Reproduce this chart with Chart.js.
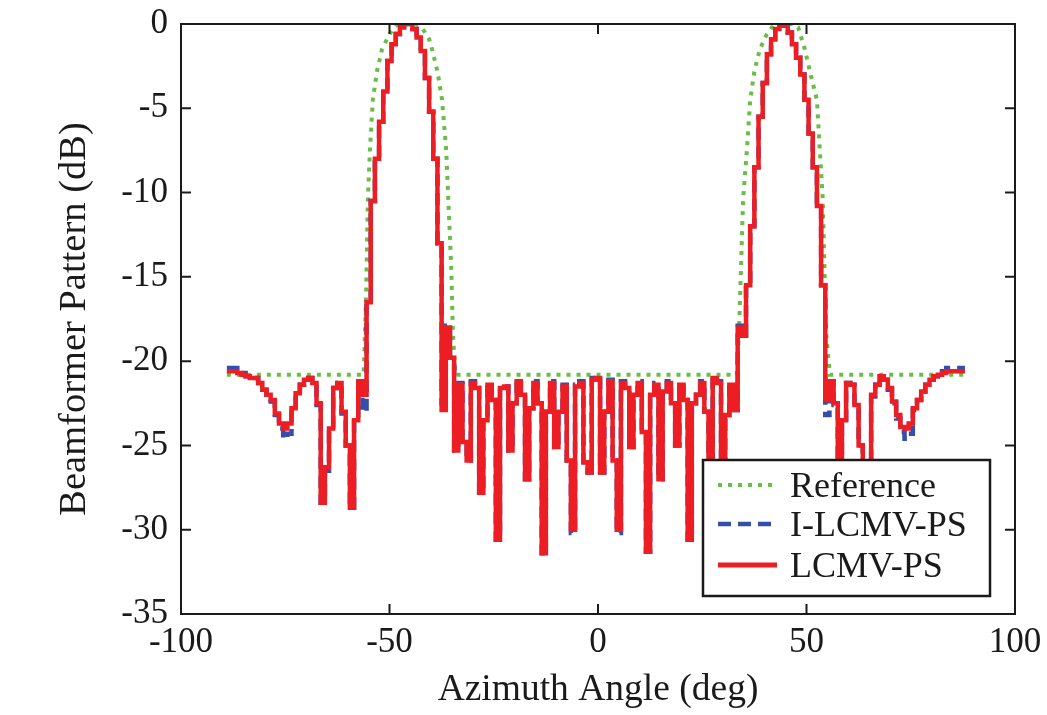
<!DOCTYPE html>
<html><head><meta charset="utf-8">
<script src="https://cdn.jsdelivr.net/npm/chart.js@4.4.1/dist/chart.umd.min.js"></script>
<style>html,body{margin:0;padding:0;background:#fff}#c{display:block}</style>
</head><body>
<canvas id="c" width="1047" height="715"></canvas>
<script>
// Azimuth angles (deg) for the adaptive patterns
const angles = [
-89,-88,-87,-86,-85,-84,-83,-82,-81,-80,-79,-78,-77,-76,-75,-74,-73,-72,-71,-70,
-69,-68,-67,-66,-65,-64,-63,-62,-61,-60,-59,-58,-57,-56,-55,-54,-53,-52,-51,-50,
-49,-48,-47,-46,-45,-44,-43,-42,-41,-40,-39,-38,-37,-36,-35,-34,-33,-32,-31,-30,
-29,-28,-27,-26,-25,-24,-23,-22,-21,-20,-19,-18,-17,-16,-15,-14,-13,-12,-11,-10,
-9,-8,-7,-6,-5,-4,-3,-2,-1,0,1,2,3,4,5,6,7,8,9,10,
11,12,13,14,15,16,17,18,19,20,21,22,23,24,25,26,27,28,29,30,
31,32,33,34,35,36,37,38,39,40,41,42,43,44,45,46,47,48,49,50,
51,52,53,54,55,56,57,58,59,60,61,62,63,64,65,66,67,68,69,70,
71,72,73,74,75,76,77,78,79,80,81,82,83,84,85,86,87,88
];
// LCMV-PS pattern (dB)
const lcmvPS = [
-20.6,-20.6,-20.6,-20.7,-20.8,-20.9,-21.0,-21.0,-21.3,-21.7,-22.0,-22.3,-23.1,-23.7,-24.0,-23.7,-22.8,-21.9,-21.4,-21.1,
-21.0,-21.3,-22.5,-28.4,-26.3,-24.0,-21.6,-21.3,-23.0,-25.0,-28.7,-23.5,-21.2,-22.0,-16.5,-10.5,-8.0,-5.8,-4.0,-2.2,
-1.2,-0.6,-0.2,0,0,-0.3,-0.8,-1.6,-3.2,-5.2,-8.0,-13.0,-22.9,-18.0,-19.8,-25.3,-21.4,-24.8,-25.9,-21.3,
-21.6,-27.8,-23.5,-21.4,-22.3,-30.6,-21.6,-21.5,-25.3,-22.5,-21.2,-22.0,-27.0,-22.8,-21.3,-22.5,-31.4,-23.0,-21.3,-25.1,
-23.0,-21.5,-25.9,-30.0,-21.5,-21.3,-26.0,-26.6,-21.1,-21.0,-26.6,-23.0,-21.2,-25.9,-30.0,-21.3,-21.6,-25.1,-22.0,-21.3,
-24.2,-31.3,-22.0,-21.4,-27.0,-21.8,-21.3,-22.5,-25.0,-21.4,-22.3,-30.6,-22.5,-22.0,-21.3,-23.0,-25.9,-21.0,-21.3,-25.7,
-23.2,-21.4,-22.9,-18.0,-18.5,-15.5,-12.0,-8.5,-5.5,-3.5,-1.8,-0.9,-0.3,0,-0.1,-0.5,-1.2,-2.0,-3.0,-4.5,
-6.5,-8.5,-10.8,-15.5,-22.3,-21.2,-22.5,-28.0,-23.5,-21.3,-21.4,-22.6,-25.0,-28.5,-26.0,-22.0,-21.4,-20.9,-21.1,-21.6,
-22.4,-23.2,-23.9,-24.0,-23.7,-22.8,-22.3,-21.8,-21.4,-21.1,-20.9,-20.8,-20.7,-20.6,-20.6,-20.6,-20.6,-20.6
];
// I-LCMV-PS pattern (dB)
const ilcmvPS = [
-20.4,-20.4,-20.4,-20.5,-20.7,-20.9,-21.0,-21.0,-21.3,-21.7,-22.0,-22.4,-23.2,-24.0,-24.6,-24.3,-22.9,-21.9,-21.4,-21.1,
-21.0,-21.3,-22.6,-28.4,-26.5,-24.2,-21.6,-21.3,-23.1,-25.0,-28.7,-23.6,-21.2,-23.0,-16.5,-10.5,-8.0,-5.8,-4.0,-2.2,
-1.2,-0.6,-0.2,0,0,-0.3,-0.8,-1.6,-3.2,-5.2,-8.0,-13.0,-22.5,-17.9,-19.8,-25.3,-21.3,-24.8,-25.9,-21.2,
-21.6,-27.8,-23.5,-21.3,-22.3,-30.6,-21.5,-21.5,-25.3,-22.5,-21.1,-22.0,-27.0,-22.8,-21.2,-22.5,-31.4,-23.0,-21.2,-25.1,
-23.0,-21.4,-25.9,-30.2,-21.4,-21.2,-26.0,-26.6,-21.0,-20.9,-26.6,-23.0,-21.1,-25.9,-30.2,-21.2,-21.6,-25.1,-22.0,-21.2,
-24.2,-31.3,-22.0,-21.3,-27.0,-21.8,-21.2,-22.5,-25.0,-21.3,-22.3,-30.6,-22.5,-22.0,-21.2,-23.0,-25.9,-20.9,-21.2,-25.7,
-23.2,-21.3,-22.9,-17.9,-18.5,-15.5,-12.0,-8.5,-5.5,-3.5,-1.8,-0.9,-0.3,0,-0.1,-0.5,-1.2,-2.0,-3.0,-4.5,
-6.5,-8.5,-10.8,-15.5,-23.2,-21.2,-22.6,-28.0,-23.6,-21.3,-21.4,-22.7,-25.0,-28.5,-26.1,-22.1,-21.4,-20.9,-21.1,-21.7,
-22.5,-23.4,-24.2,-24.6,-24.3,-22.9,-22.3,-21.8,-21.4,-21.1,-20.9,-20.7,-20.6,-20.4,-20.4,-20.4,-20.4,-20.4
];
// Reference (desired) pattern
const refAngles = [
-89,-56.2,-55.6,-55.2,-54.7,-54,-53,-51.8,-50,-48.5,-47,-43.5,-42,-40.5,-39.8,-38.5,-37.4,-36.4,-35.9,-35.2,-34.8,-34.2,
33.3,33.8,34.3,34.8,35.7,36.5,37.5,38.8,40.5,42,43.2,46.8,48,49.6,51,52.5,53.2,53.9,54.3,54.7,55.6,88
];
const refPattern = [
-20.8,-20.8,-16,-10.5,-7.5,-4.5,-2.8,-1.5,-0.6,-0.1,0,0,-0.3,-0.9,-1.5,-2.8,-4.5,-7.5,-10.4,-14.4,-18.3,-20.8,
-20.8,-18.3,-14.4,-10.4,-7.5,-4.5,-2.8,-1.5,-0.6,-0.1,0,0,-0.2,-1.5,-3.0,-4.5,-7.5,-10.4,-14.4,-18.3,-20.8,-20.8
];
const xTicks = [-100, -50, 0, 50, 100];
const yTicks = [-35, -30, -25, -20, -15, -10, -5, 0];
const seriesNames = ['Reference', 'I-LCMV-PS', 'LCMV-PS'];
const colors = { ref: 'rgb(104,190,72)', ilcmv: 'rgb(52,78,170)', lcmv: 'rgb(236,30,36)' };

const FONT = "'Liberation Serif', 'Times New Roman', serif";
const INK = '#1a1a1a';

const toXY = (xs, ys) => xs.map((x, i) => ({ x: x, y: ys[i] }));

const framePlugin = {
  id: 'frame',
  afterDraw(chart) {
    const { ctx, chartArea: a, scales } = chart;
    ctx.save();
    ctx.strokeStyle = INK;
    ctx.lineWidth = 2;
    ctx.strokeRect(a.left, a.top, a.right - a.left, a.bottom - a.top);
    const L = 10;
    ctx.beginPath();
    xTicks.forEach(v => {
      const px = scales.x.getPixelForValue(v);
      ctx.moveTo(px, a.bottom); ctx.lineTo(px, a.bottom - L);
      ctx.moveTo(px, a.top); ctx.lineTo(px, a.top + L);
    });
    yTicks.forEach(v => {
      const py = scales.y.getPixelForValue(v);
      ctx.moveTo(a.left, py); ctx.lineTo(a.left + L, py);
      ctx.moveTo(a.right, py); ctx.lineTo(a.right - L, py);
    });
    ctx.stroke();

    // legend box
    const bw = 287, bh = 136;
    const bx = a.right - 25 - bw, by = a.bottom - 18 - bh;
    ctx.fillStyle = '#fff';
    ctx.fillRect(bx, by, bw, bh);
    ctx.lineWidth = 2.5;
    ctx.strokeStyle = INK;
    ctx.strokeRect(bx, by, bw, bh);
    const rows = [by + 28, by + 67, by + 108];
    const styles = [
      { c: colors.ref, d: [4, 6], w: 4 },
      { c: colors.ilcmv, d: [13, 7], w: 4.5 },
      { c: colors.lcmv, d: [], w: 5 }
    ];
    ctx.font = "36px " + FONT;
    ctx.textBaseline = 'middle';
    ctx.textAlign = 'left';
    rows.forEach((ry, i) => {
      ctx.beginPath();
      ctx.setLineDash(styles[i].d);
      ctx.strokeStyle = styles[i].c;
      ctx.lineWidth = styles[i].w;
      ctx.moveTo(bx + 15, ry - 3); ctx.lineTo(bx + 74, ry - 3);
      ctx.stroke();
      ctx.setLineDash([]);
      ctx.fillStyle = INK;
      ctx.fillText(seriesNames[i], bx + 87, ry);
    });
    ctx.restore();
  }
};

new Chart(document.getElementById('c'), {
  type: 'line',
  data: {
    datasets: [
      { label: seriesNames[2], data: toXY(angles, lcmvPS), borderColor: colors.lcmv, borderWidth: 4.5,
        stepped: 'middle', pointRadius: 0, fill: false, order: 1 },
      { label: seriesNames[1], data: toXY(angles, ilcmvPS), borderColor: colors.ilcmv, borderWidth: 4.5,
        borderDash: [12, 7], stepped: 'middle', pointRadius: 0, fill: false, order: 2 },
      { label: seriesNames[0], data: toXY(refAngles, refPattern), borderColor: colors.ref, borderWidth: 4,
        borderDash: [4, 6], pointRadius: 0, fill: false, tension: 0, order: 3 }
    ]
  },
  options: {
    responsive: false,
    animation: false,
    devicePixelRatio: 1,
    layout: { padding: { left: 0, right: 32, top: 24, bottom: 0 } },
    plugins: { legend: { display: false }, tooltip: { enabled: false } },
    scales: {
      x: {
        type: 'linear', min: -100, max: 100,
        afterBuildTicks: s => { s.ticks = xTicks.map(v => ({ value: v })); },
        afterFit: s => { s.height = 101; s.paddingLeft = 0; s.paddingRight = 0; },
        grid: { display: false, drawTicks: false },
        border: { display: false },
        ticks: { color: INK, padding: 8, font: { family: FONT, size: 35 }, maxRotation: 0 },
        title: { display: true, text: 'Azimuth Angle (deg)', color: INK,
                 font: { family: FONT, size: 37.5 }, padding: { top: 0, bottom: 2 } }
      },
      y: {
        type: 'linear', min: -35, max: 0,
        afterBuildTicks: s => { s.ticks = yTicks.map(v => ({ value: v })); },
        afterFit: s => { s.width = 181; s.paddingTop = 0; s.paddingBottom = 0; },
        grid: { display: false, drawTicks: false },
        border: { display: false },
        ticks: { color: INK, padding: 13, font: { family: FONT, size: 35 } },
        title: { display: true, text: 'Beamformer Pattern (dB)', color: INK,
                 font: { family: FONT, size: 38.5 }, padding: { top: 52, bottom: 0 } }
      }
    }
  },
  plugins: [framePlugin]
});
</script>
</body></html>
